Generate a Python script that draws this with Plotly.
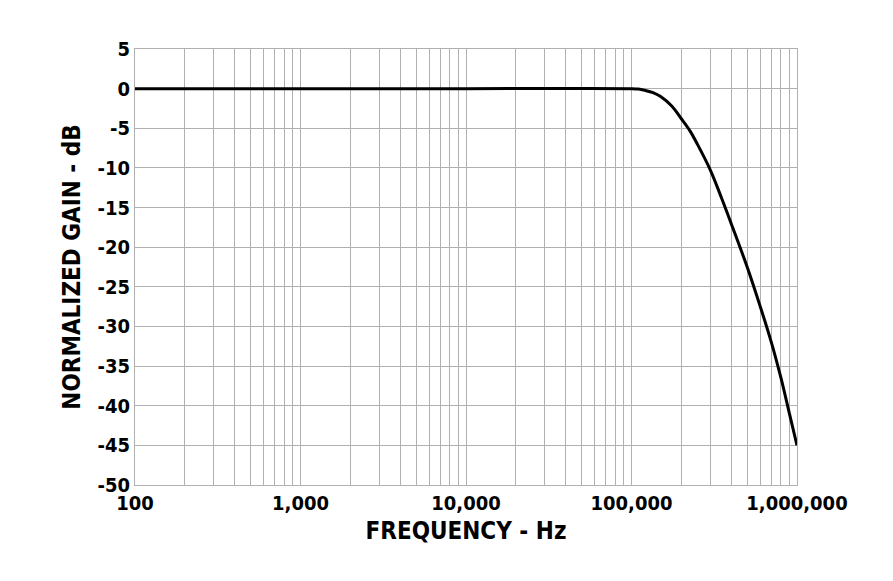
import plotly.graph_objects as go

freq = [100, 1000, 10000, 100000, 110000, 120000, 135000, 150000, 175000, 200000, 225000,
        250000, 300000, 350000, 400000, 500000, 600000, 700000, 800000, 900000, 1000000]
gain = [0, 0, 0, 0, -0.05, -0.2, -0.5, -1, -2.2, -3.8, -5.3, -7, -10.3, -13.8, -17,
        -22.5, -27.5, -32, -36.5, -41, -45]

y_ticks = list(range(-50, 6, 5))
decades = [100, 1000, 10000, 100000, 1000000]
decade_labels = ['100', '1,000', '10,000', '100,000', '1,000,000']

xvals, xtext = [], []
for i, d in enumerate(decades[:-1]):
    for m in range(1, 10):
        xvals.append(d * m)
        xtext.append('<b>%s</b>' % decade_labels[i] if m == 1 else '')
xvals.append(decades[-1])
xtext.append('<b>%s</b>' % decade_labels[-1])

font = 'DejaVu Sans Condensed, Liberation Sans Narrow, Arial'

fig = go.Figure()
fig.add_trace(go.Scatter(x=freq, y=gain, mode='lines', line=dict(color='black', width=3, shape='spline')))

fig.update_xaxes(type='log', range=[2, 6], tickvals=xvals, ticktext=xtext,
                 showgrid=True, gridcolor='#b0b0b0', gridwidth=1,
                 showline=True, linecolor='#b0b0b0', mirror=True, ticks='',
                 title_text='<b>FREQUENCY - Hz</b>', title_standoff=8,
                 tickfont=dict(size=20, color='black'))
fig.update_yaxes(range=[-50, 5], tickvals=y_ticks,
                 ticktext=['<b>%d</b>' % v for v in y_ticks],
                 showgrid=True, gridcolor='#b0b0b0', zeroline=False,
                 showline=True, linecolor='#b0b0b0', mirror=True, ticks='',
                 title_text='<b>NORMALIZED GAIN - dB</b>', title_standoff=10,
                 tickfont=dict(size=20, color='black'))

fig.update_layout(width=893, height=581, showlegend=False,
                  plot_bgcolor='white', paper_bgcolor='white',
                  margin=dict(l=127, r=104, t=41, b=104),
                  font=dict(family=font, size=20, color='black'))

fig.write_html('out.html')
